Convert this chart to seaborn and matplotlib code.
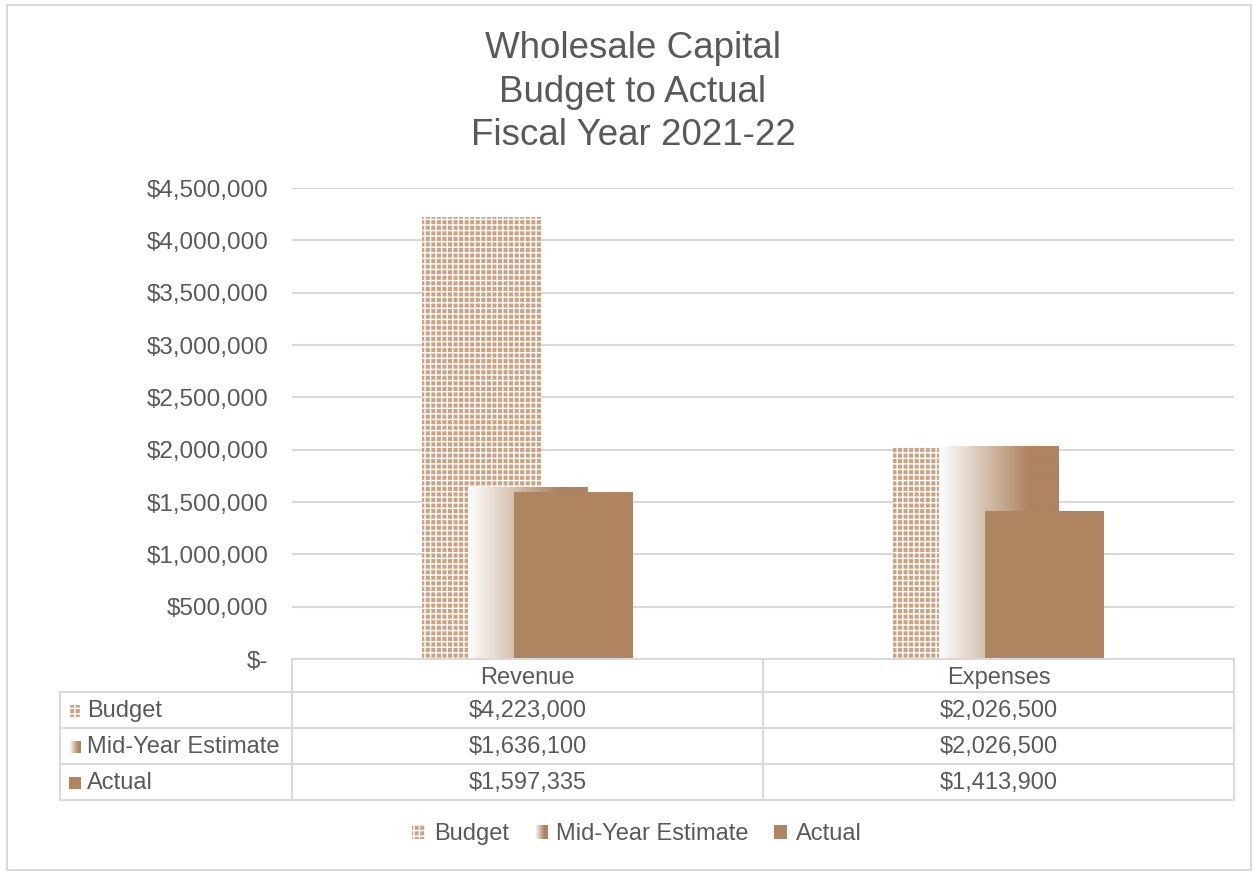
import numpy as np
import pandas as pd
import seaborn as sns
import matplotlib.pyplot as plt
from matplotlib.patches import Rectangle, Patch
from matplotlib.lines import Line2D
from matplotlib.legend_handler import HandlerBase
from matplotlib.transforms import blended_transform_factory


## DATA

categories = ['Revenue', 'Expenses']
series = ['Budget', 'Mid-Year Estimate', 'Actual']
budget = [4223000, 2026500]
mid_year = [1636100, 2026500]
actual = [1597335, 1413900]
y_ticks = [0, 500000, 1000000, 1500000, 2000000, 2500000, 3000000, 3500000, 4000000, 4500000]
title = 'Wholesale Capital\nBudget to Actual\nFiscal Year 2021-22'

## STYLE

W, H = 1253, 872
GREY = '#595959'
LINE = '#d9d9d9'
BROWN = np.array([0xae, 0x84, 0x61]) / 255
TAN = '#cda283'
HATCH = '+++'


def fx(px):
    return px / W


def fy(py):
    return 1 - py / H


def money(v):
    return '$-' if v == 0 else '${:,.0f}'.format(v)


def grad_color(f):
    f = min(1.0, f / 0.75)
    return tuple(np.ones(3) * (1 - f) + BROWN * f)


class GradientHandler(HandlerBase):
    def create_artists(self, legend, orig_handle, xdescent, ydescent, width, height, fontsize, trans):
        n = 12
        arts = []
        for k in range(n):
            arts.append(Rectangle((-xdescent + k * width / n, -ydescent), width / n * 1.05, height,
                                  fc=grad_color((k + 0.5) / n), ec='none', transform=trans))
        return arts


df = pd.DataFrame({
    'Category': categories * 3,
    'Series': np.repeat(series, len(categories)),
    'Value': budget + mid_year + actual,
})

sns.set_theme(style='white')
plt.rcParams['font.family'] = ['Liberation Sans', 'DejaVu Sans']
plt.rcParams['hatch.linewidth'] = 1.0

fig = plt.figure(figsize=(W / 100, H / 100), dpi=100)
ax = fig.add_axes([fx(292), fy(659), (1234 - 292) / W, (659 - 188) / H])

sns.barplot(data=df, x='Category', y='Value', hue='Series', hue_order=series,
            palette=[TAN, tuple(BROWN), tuple(BROWN)], saturation=1, dodge=True,
            legend=False, ax=ax)

## overlapping bars like excel
bar_w = 0.253
step = 0.098
for i, cont in enumerate(ax.containers):
    for j, bar in enumerate(cont):
        bar.set_width(bar_w)
        bar.set_x(j + (i - 1) * step - bar_w / 2)
        bar.set_zorder(2 + i)
        bar.set_linewidth(0)
        if i == 0:
            bar.set_edgecolor('white')
            bar.set_hatch(HATCH)

# gradient fill for the mid-year bars
t = np.linspace(0, 1, 200)
grad = np.array([[grad_color(v) for v in t]])
for bar in ax.containers[1]:
    x0 = bar.get_x()
    ax.imshow(grad, extent=[x0, x0 + bar_w, 0, bar.get_height()], aspect='auto',
              zorder=3.5, interpolation='bilinear')

ax.set_xlim(-0.5, 1.5)
ax.set_ylim(0, 4500000)
ax.set_yticks(y_ticks)
ax.set_yticklabels([money(v) for v in y_ticks])
ax.yaxis.grid(True, color=LINE, lw=1.5)
ax.set_axisbelow(True)
ax.tick_params(axis='y', length=0, pad=17, labelsize=17.5, labelcolor=GREY)
ax.set_xticks(range(len(categories)))
ax.set_xticklabels(categories)
ax.tick_params(axis='x', length=0, pad=6, labelsize=17, labelcolor=GREY)
ax.set_xlabel('')
ax.set_ylabel('')
for s in ax.spines.values():
    s.set_visible(False)

## DATA TABLE

tf = fig.transFigure
for y in [692, 728, 764, 800]:
    fig.add_artist(Line2D([fx(60), fx(1234)], [fy(y), fy(y)], color=LINE, lw=1.5, transform=tf))
fig.add_artist(Line2D([fx(292), fx(1234)], [fy(659), fy(659)], color=LINE, lw=1.5, transform=tf))
fig.add_artist(Line2D([fx(60), fx(60)], [fy(692), fy(800)], color=LINE, lw=1.5, transform=tf))
for x in [292, 763, 1234]:
    fig.add_artist(Line2D([fx(x), fx(x)], [fy(659), fy(800)], color=LINE, lw=1.5, transform=tf))

mixed = blended_transform_factory(ax.transData, tf)
rows = [budget, mid_year, actual]
row_y = [711, 747, 783]
for i, (name, vals, yy) in enumerate(zip(series, rows, row_y)):
    fig.text(fx(87), fy(yy), name, ha='left', va='center', fontsize=17, color=GREY)
    # legend key
    kx, ky, ks = fx(69), fy(yy + 6), 12
    if i == 0:
        fig.add_artist(Rectangle((kx, ky), ks / W, ks / H, fc=TAN, ec='white', lw=0,
                                 hatch=HATCH, transform=tf))
    elif i == 1:
        for k in range(8):
            fig.add_artist(Rectangle((kx + k * ks / 8 / W, ky), ks / 8 / W * 1.05, ks / H,
                                     fc=grad_color((k + 0.5) / 8), ec='none', transform=tf))
    else:
        fig.add_artist(Rectangle((kx, ky), ks / W, ks / H, fc=tuple(BROWN), ec='none', transform=tf))
    for j, v in enumerate(vals):
        fig.text(j, fy(yy), money(v), ha='center', va='center', fontsize=17, color=GREY,
                 transform=mixed)

## LEGEND

mid_handle = Patch(fc=tuple(BROWN))
handles = [Patch(fc=TAN, ec='white', lw=0, hatch=HATCH), mid_handle, Patch(fc=tuple(BROWN), lw=0)]
fig.legend(handles=handles, labels=series, handler_map={mid_handle: GradientHandler()},
           loc='center', bbox_to_anchor=(fx(637), fy(834)), ncol=3, frameon=False,
           fontsize=17, handlelength=0.55, handleheight=0.55, handletextpad=0.35,
           columnspacing=1.1, labelcolor=GREY)

## TITLE AND FRAME

fig.text(fx(633), fy(92), title, ha='center', va='center', fontsize=26.5, color=GREY,
         linespacing=1.32)
fig.add_artist(Rectangle((fx(7), fy(870)), (1251 - 7) / W, (870 - 5) / H, transform=tf,
                         fill=False, ec=LINE, lw=1.5))

fig.savefig('out.png', dpi=100)
